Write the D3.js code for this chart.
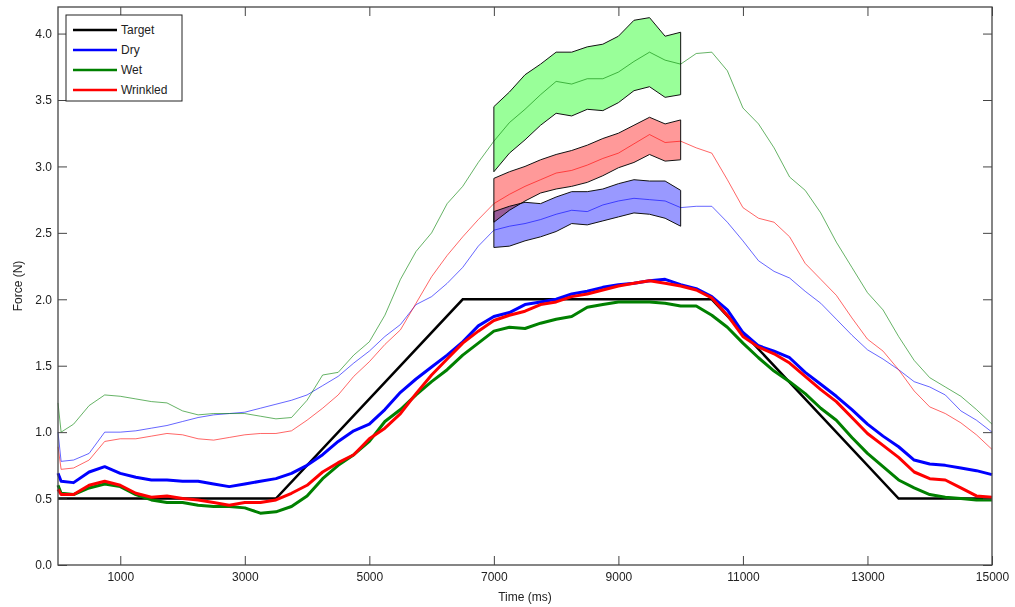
<!doctype html>
<head>
  <meta charset="utf-8">
  <script src="https://cdnjs.cloudflare.com/ajax/libs/d3/7.8.2/d3.min.js"></script>
</head>
<style>
    body { margin: 0; background: white; }
    text { font-family: "Liberation Sans", Arial, sans-serif; }
</style>
<body>
    <div id="chart"></div>
    <script>
        // Tiempos de muestreo (ms) y fuerzas (N)
        const timeMs = [0, 50, 250, 500, 750, 1000, 1250, 1500, 1750, 2000, 2250, 2500, 2750, 3000, 3250, 3500, 3750, 4000, 4250, 4500, 4750,
            5000, 5250, 5500, 5750, 6000, 6250, 6500, 6750, 7000, 7250, 7500, 7750, 8000, 8250, 8500, 8750, 9000, 9250, 9500, 9750,
            10000, 10250, 10500, 10750, 11000, 11250, 11500, 11750, 12000, 12250, 12500, 12750, 13000, 13250, 13500, 13750, 14000, 14250, 14500, 14750, 15000];

        const targetTime = [0, 3500, 6500, 10500, 13500, 15000];
        const targetForce = [0.5, 0.5, 2.0, 2.0, 0.5, 0.5];

        // Líneas gruesas
        const dryForce = [0.69, 0.63, 0.62, 0.70, 0.74, 0.69, 0.66, 0.64, 0.64, 0.63, 0.63, 0.61, 0.59, 0.61, 0.63, 0.65, 0.69, 0.75, 0.83, 0.93, 1.01,
            1.06, 1.17, 1.30, 1.40, 1.49, 1.58, 1.68, 1.80, 1.87, 1.90, 1.96, 1.98, 2.00, 2.04, 2.06, 2.09, 2.11, 2.12, 2.14, 2.15,
            2.11, 2.08, 2.02, 1.92, 1.75, 1.65, 1.61, 1.56, 1.45, 1.36, 1.27, 1.17, 1.06, 0.97, 0.89, 0.79, 0.76, 0.75, 0.73, 0.71, 0.68];
        const wetForce = [0.60, 0.54, 0.53, 0.58, 0.61, 0.59, 0.53, 0.49, 0.47, 0.47, 0.45, 0.44, 0.44, 0.43, 0.39, 0.40, 0.44, 0.52, 0.65, 0.75, 0.83,
            0.93, 1.08, 1.17, 1.28, 1.38, 1.47, 1.58, 1.67, 1.76, 1.79, 1.78, 1.82, 1.85, 1.87, 1.94, 1.96, 1.98, 1.98, 1.98, 1.97,
            1.95, 1.95, 1.88, 1.79, 1.67, 1.56, 1.46, 1.38, 1.29, 1.18, 1.09, 0.96, 0.84, 0.74, 0.64, 0.58, 0.53, 0.51, 0.50, 0.49, 0.49];
        const wrinkledForce = [0.57, 0.53, 0.53, 0.60, 0.63, 0.60, 0.54, 0.51, 0.52, 0.50, 0.49, 0.47, 0.45, 0.47, 0.47, 0.49, 0.54, 0.60, 0.70, 0.77, 0.83,
            0.95, 1.03, 1.14, 1.29, 1.43, 1.55, 1.67, 1.76, 1.84, 1.88, 1.91, 1.96, 1.98, 2.02, 2.04, 2.07, 2.10, 2.12, 2.14, 2.12,
            2.10, 2.07, 2.01, 1.88, 1.72, 1.64, 1.59, 1.52, 1.42, 1.32, 1.23, 1.11, 0.99, 0.90, 0.81, 0.70, 0.65, 0.64, 0.58, 0.52, 0.51];

        // Líneas finas
        const dryThin = [1.00, 0.78, 0.79, 0.84, 1.00, 1.00, 1.01, 1.03, 1.05, 1.08, 1.11, 1.13, 1.14, 1.15, 1.18, 1.21, 1.24, 1.28, 1.35, 1.42, 1.52,
            1.61, 1.72, 1.81, 1.96, 2.02, 2.12, 2.24, 2.40, 2.52, 2.55, 2.57, 2.60, 2.64, 2.67, 2.66, 2.71, 2.74, 2.76, 2.75, 2.74,
            2.69, 2.70, 2.70, 2.58, 2.44, 2.29, 2.21, 2.16, 2.06, 1.97, 1.85, 1.73, 1.62, 1.55, 1.47, 1.38, 1.34, 1.28, 1.16, 1.09, 1.00];
        const wetThin = [1.22, 1.00, 1.06, 1.20, 1.28, 1.27, 1.25, 1.23, 1.22, 1.16, 1.13, 1.14, 1.14, 1.14, 1.12, 1.10, 1.11, 1.24, 1.43, 1.45, 1.58,
            1.68, 1.88, 2.15, 2.36, 2.50, 2.72, 2.85, 3.03, 3.19, 3.33, 3.43, 3.54, 3.64, 3.62, 3.66, 3.66, 3.71, 3.79, 3.86, 3.80,
            3.77, 3.85, 3.86, 3.72, 3.44, 3.32, 3.14, 2.92, 2.82, 2.65, 2.43, 2.24, 2.05, 1.92, 1.72, 1.54, 1.41, 1.34, 1.27, 1.17, 1.06];
        const wrinkledThin = [0.89, 0.72, 0.73, 0.79, 0.93, 0.95, 0.95, 0.97, 0.99, 0.98, 0.95, 0.94, 0.96, 0.98, 0.99, 0.99, 1.01, 1.09, 1.18, 1.28, 1.42,
            1.53, 1.66, 1.77, 1.97, 2.17, 2.33, 2.47, 2.60, 2.72, 2.79, 2.85, 2.90, 2.95, 2.97, 3.01, 3.06, 3.10, 3.17, 3.24, 3.18,
            3.19, 3.14, 3.10, 2.90, 2.69, 2.61, 2.58, 2.47, 2.27, 2.15, 2.03, 1.86, 1.70, 1.61, 1.47, 1.31, 1.19, 1.14, 1.07, 0.98, 0.87];

        // Bandas (7000 - 10000 ms)
        const bandTime = [7000, 7250, 7500, 7750, 8000, 8250, 8500, 8750, 9000, 9250, 9500, 9750, 10000];
        const wetUpper = [3.45, 3.56, 3.69, 3.77, 3.86, 3.86, 3.90, 3.92, 3.98, 4.10, 4.12, 3.98, 4.01];
        const wetLower = [2.96, 3.10, 3.20, 3.31, 3.40, 3.38, 3.43, 3.42, 3.48, 3.57, 3.60, 3.52, 3.54];
        const wrinkledUpper = [2.91, 2.96, 3.00, 3.05, 3.09, 3.12, 3.16, 3.21, 3.25, 3.31, 3.37, 3.32, 3.35];
        const wrinkledLower = [2.58, 2.67, 2.74, 2.80, 2.83, 2.85, 2.88, 2.93, 2.99, 3.03, 3.09, 3.04, 3.05];
        const dryUpper = [2.66, 2.70, 2.73, 2.72, 2.77, 2.81, 2.81, 2.83, 2.87, 2.90, 2.89, 2.89, 2.82];
        const dryLower = [2.39, 2.40, 2.44, 2.47, 2.51, 2.57, 2.56, 2.59, 2.62, 2.65, 2.64, 2.61, 2.55];

        const xTicks = [1000, 3000, 5000, 7000, 9000, 11000, 13000, 15000];
        const yTicks = [0, 0.5, 1.0, 1.5, 2.0, 2.5, 3.0, 3.5, 4.0];
        const legendNames = ["Target", "Dry", "Wet", "Wrinkled"];
        const legendColors = ["#000000", "#0000ff", "#008000", "#ff0000"];

        const width = 1015, height = 607;
        const margin = {top: 7, right: 23, bottom: 42, left: 58};

        const svg = d3.select('#chart')
            .append('svg')
            .attr('width', width)
            .attr('height', height);

        const x = d3.scaleLinear().domain([0, 15000]).range([margin.left, width - margin.right]);
        const y = d3.scaleLinear().domain([0, 4.2]).range([height - margin.bottom, margin.top]);

        const line = d3.line()
            .x((d) => x(d[0]))
            .y((d) => y(d[1]));

        const zip = (t, v) => t.map((d, i) => [d, v[i]]);

        // Líneas finas
        [[dryThin, "#0000ff"], [wetThin, "#008000"], [wrinkledThin, "#ff0000"]].forEach(([vals, color]) => {
            svg.append("path")
                .attr("d", line(zip(timeMs, vals)))
                .attr("fill", "none")
                .attr("stroke", color)
                .attr("stroke-opacity", 0.6)
                .attr("stroke-width", 1);
        });

        // Bandas
        const area = d3.area()
            .x((d) => x(d.t))
            .y0((d) => y(d.lo))
            .y1((d) => y(d.hi));
        [[wetUpper, wetLower, "#99ff99"], [wrinkledUpper, wrinkledLower, "#ff9999"], [dryUpper, dryLower, "#9999ff"]].forEach(([hi, lo, color]) => {
            const d = bandTime.map((t, i) => ({t: t, hi: hi[i], lo: lo[i]}));
            svg.append("path")
                .attr("d", area(d))
                .attr("fill", color)
                .attr("stroke", "#111")
                .attr("stroke-width", 1)
                .style("mix-blend-mode", "multiply");
        });

        // Líneas gruesas
        svg.append("path")
            .attr("d", line(zip(targetTime, targetForce)))
            .attr("fill", "none")
            .attr("stroke", "#000")
            .attr("stroke-width", 2.5);
        [[dryForce, "#0000ff"], [wetForce, "#008000"], [wrinkledForce, "#ff0000"]].forEach(([vals, color]) => {
            svg.append("path")
                .attr("d", line(zip(timeMs, vals)))
                .attr("fill", "none")
                .attr("stroke", color)
                .attr("stroke-width", 3)
                .attr("stroke-linejoin", "round");
        });

        // Ejes con marcas hacia dentro
        const axisColor = "#444";
        const gx = svg.append("g")
            .attr("transform", `translate(0,${height - margin.bottom})`)
            .call(d3.axisBottom(x).tickValues(xTicks).tickSizeInner(-9).tickSizeOuter(0).tickPadding(7).tickFormat(d3.format("d")));
        const gxTop = svg.append("g")
            .attr("transform", `translate(0,${margin.top})`)
            .call(d3.axisTop(x).tickValues(xTicks).tickSizeInner(-9).tickSizeOuter(0).tickFormat(""));
        const gy = svg.append("g")
            .attr("transform", `translate(${margin.left},0)`)
            .call(d3.axisLeft(y).tickValues(yTicks).tickSizeInner(-9).tickSizeOuter(0).tickPadding(6).tickFormat(d3.format(".1f")));
        const gyRight = svg.append("g")
            .attr("transform", `translate(${width - margin.right},0)`)
            .call(d3.axisRight(y).tickValues(yTicks).tickSizeInner(-9).tickSizeOuter(0).tickFormat(""));

        [gx, gxTop, gy, gyRight].forEach((g) => {
            g.select(".domain").remove();
            g.selectAll("line").attr("stroke", axisColor);
            g.selectAll("text").attr("font-size", 12).attr("fill", "#222").attr("font-family", '"Liberation Sans", Arial, sans-serif');
        });

        svg.append("rect")
            .attr("x", margin.left)
            .attr("y", margin.top)
            .attr("width", width - margin.left - margin.right)
            .attr("height", height - margin.top - margin.bottom)
            .attr("fill", "none")
            .attr("stroke", axisColor)
            .attr("stroke-width", 1.3);

        // Títulos de ejes
        svg.append("text")
            .attr("x", (margin.left + width - margin.right) / 2)
            .attr("y", 601)
            .attr("text-anchor", "middle")
            .attr("font-size", 12)
            .attr("fill", "#222")
            .text("Time (ms)");
        svg.append("text")
            .attr("transform", `translate(22,${(margin.top + height - margin.bottom) / 2}) rotate(-90)`)
            .attr("text-anchor", "middle")
            .attr("font-size", 12)
            .attr("fill", "#222")
            .text("Force (N)");

        // Leyenda
        const legend = svg.append("g").attr("transform", "translate(66,15)");
        legend.append("rect")
            .attr("width", 116)
            .attr("height", 86)
            .attr("fill", "white")
            .attr("stroke", "#222")
            .attr("stroke-width", 1);
        legendNames.forEach((name, i) => {
            const ly = 15 + i * 20;
            legend.append("line")
                .attr("x1", 7).attr("x2", 51)
                .attr("y1", ly).attr("y2", ly)
                .attr("stroke", legendColors[i])
                .attr("stroke-width", 2.5);
            legend.append("text")
                .attr("x", 55)
                .attr("y", ly + 4)
                .attr("font-size", 12)
                .attr("fill", "#222")
                .text(name);
        });
    </script>
</body>
